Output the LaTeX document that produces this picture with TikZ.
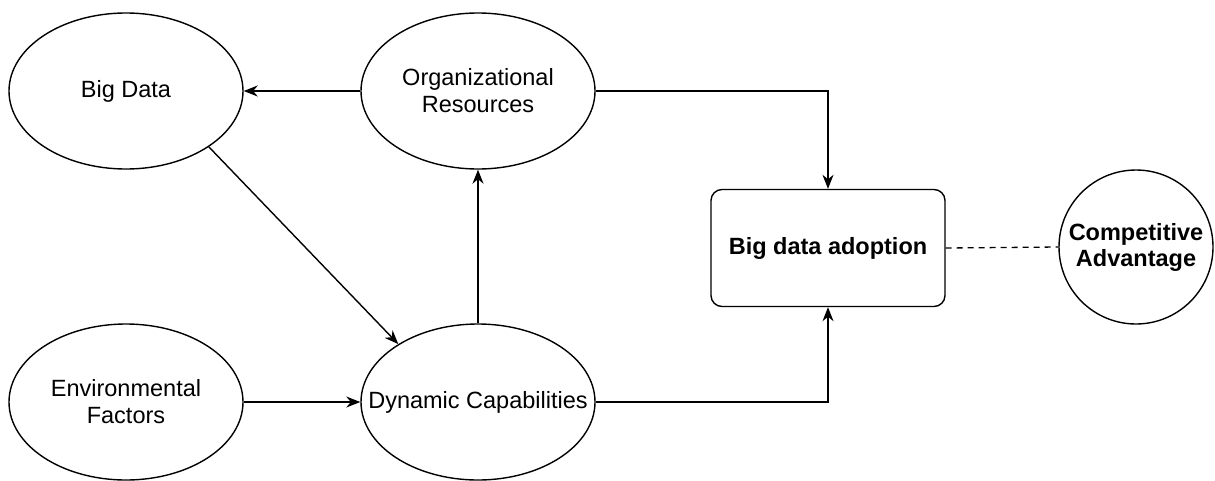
\documentclass[tikz,border=0pt]{standalone}
\usepackage{fontspec}
\setmainfont{Liberation Sans}
\usetikzlibrary{shapes.geometric,arrows.meta}
\begin{document}
\begin{tikzpicture}[x=1pt,y=-1pt,
  oval/.style={draw, ellipse, line width=1.4pt, minimum width=234pt, minimum height=156pt, inner sep=0pt, inner xsep=-60pt, align=center, font=\fontsize{23.5}{27}\selectfont},
  roundbox/.style={draw, rounded corners=11pt, line width=1.4pt, minimum width=234pt, minimum height=117pt, inner sep=0pt, align=center, font=\fontsize{23.5}{27}\selectfont\bfseries},
  disc/.style={draw, circle, line width=1.4pt, minimum size=154pt, inner sep=0pt, align=center, font=\fontsize{23.5}{26}\selectfont\bfseries},
  link/.style={line width=1.4pt, -{Stealth[length=14pt,width=11pt,inset=4.5pt]}},
  tie/.style={line width=1.3pt, dash pattern=on 6pt off 5pt}]
\useasboundingbox (0,0) rectangle (1215,480);
\node[oval] (bd) at (126,91) {Big Data};
\node[oval] (org) at (478,91) {Organizational\\Resources};
\node[oval] (ef) at (126,402) {Environmental\\Factors};
\node[oval] (dc) at (478,402) {Dynamic Capabilities};
\node[roundbox] (bda) at (828,248) {Big data adoption};
\node[disc] (ca) at (1136,247) {Competitive\\Advantage};
\draw[link] (org.west) -- (bd.east);
\draw[link] (org.east) -| (bda.north);
\draw[link] (dc.north) -- (org.south);
\draw[link] (bd.-34) -- (dc.144);
\draw[link] (ef.east) -- (dc.west);
\draw[link] (dc.east) -| (bda.south);
\draw[tie] (bda.east) -- (ca.west);
\end{tikzpicture}
\end{document}
